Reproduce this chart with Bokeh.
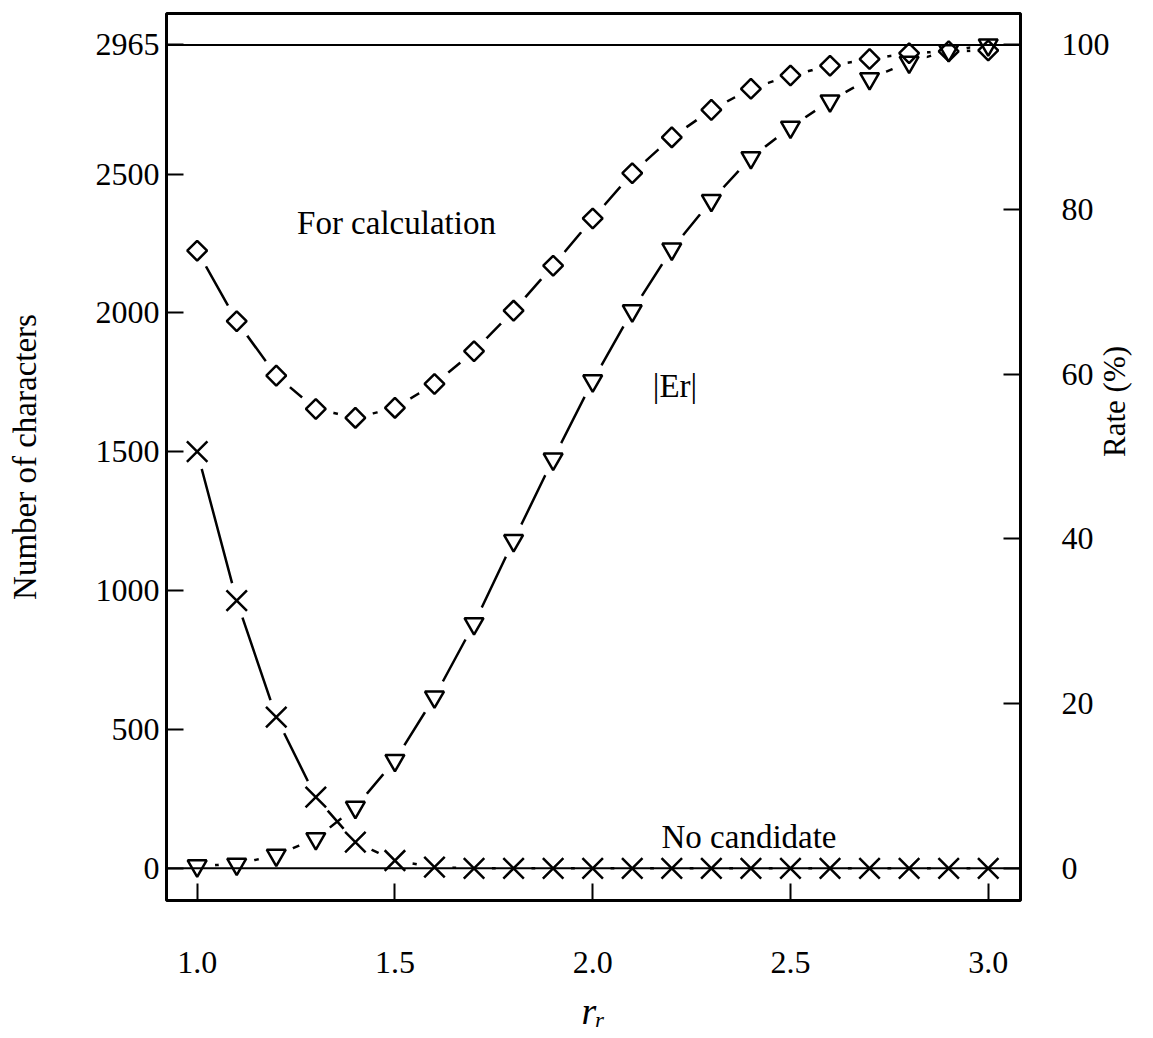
import math
from bokeh.plotting import figure
from bokeh.models import Range1d, LinearAxis, FixedTicker, Span, Label, NumeralTickFormatter
from bokeh.embed import file_html
from bokeh.resources import INLINE

# ---- data ----
r_r = [1.0, 1.1, 1.2, 1.3, 1.4, 1.5, 1.6, 1.7, 1.8, 1.9, 2.0,
       2.1, 2.2, 2.3, 2.4, 2.5, 2.6, 2.7, 2.8, 2.9, 3.0]
# number of characters "for calculation" (diamonds)
for_calculation = [2224, 1970, 1774, 1654, 1622, 1658, 1744, 1862, 2008, 2170, 2340,
                   2503, 2632, 2731, 2807, 2855, 2890, 2914, 2935, 2942, 2945]
# number of characters with no candidate (crosses)
no_candidate = [1500, 964, 544, 256, 94, 28, 4, 0, 0, 0, 0,
                0, 0, 0, 0, 0, 0, 0, 0, 0, 0]
# |Er| rate in percent (triangles)
er_rate = [0.3, 0.5, 1.6, 3.6, 7.4, 13.1, 20.8, 29.7, 39.8, 49.7, 59.2,
           67.7, 75.2, 81.1, 86.3, 90.0, 93.2, 95.9, 97.9, 99.3, 100.0]

total_chars = 2965
left_ticks = [0, 500, 1000, 1500, 2000, 2500, 2965]
right_ticks = [0, 20, 40, 60, 80, 100]
x_ticks = [1.0, 1.5, 2.0, 2.5, 3.0]

FONT = "Liberation Serif"
Y_LO, Y_HI = -116, 3078

p = figure(width=1152, height=1037,
           x_range=Range1d(0.9225, 3.0816), y_range=Range1d(Y_LO, Y_HI),
           output_backend="svg", toolbar_location=None,
           min_border_left=166, min_border_right=131,
           min_border_top=13, min_border_bottom=137)
p.extra_y_ranges = {"rate": Range1d(Y_LO * 100 / total_chars, Y_HI * 100 / total_chars)}
p.xgrid.visible = False
p.ygrid.visible = False
p.outline_line_color = "black"
p.outline_line_width = 3
p.background_fill_color = "white"
p.border_fill_color = "white"

right_axis = LinearAxis(y_range_name="rate", axis_label="Rate (%)")
p.add_layout(right_axis, "right")

for ax in [p.xaxis[0], p.yaxis[0], right_axis]:
    ax.axis_line_color = None
    ax.major_tick_in = 17
    ax.major_tick_out = 0
    ax.major_tick_line_width = 2
    ax.major_tick_line_color = "black"
    ax.minor_tick_line_color = None
    ax.major_label_text_font = FONT
    ax.major_label_text_font_size = "32px"
    ax.major_label_text_color = "black"
    ax.axis_label_text_font = FONT
    ax.axis_label_text_font_size = "33px"
    ax.axis_label_text_font_style = "normal"
    ax.axis_label_text_color = "black"

p.xaxis[0].ticker = FixedTicker(ticks=x_ticks)
p.xaxis[0].formatter = NumeralTickFormatter(format="0.0")
p.xaxis[0].major_label_standoff = 51
# x-axis title: italic r with subscript r
p.xaxis[0].axis_label = "r\u1d63"
p.xaxis[0].axis_label_text_font = FONT
p.xaxis[0].axis_label_text_font_size = "38px"
p.xaxis[0].axis_label_text_font_style = "italic"
p.xaxis[0].axis_label_standoff = 14

p.yaxis[0].ticker = FixedTicker(ticks=left_ticks)
p.yaxis[0].major_label_standoff = 7
p.yaxis[0].axis_label = "Number of characters"
p.yaxis[0].axis_label_standoff = 50

right_axis.ticker = FixedTicker(ticks=right_ticks)
right_axis.major_label_standoff = 41
right_axis.axis_label_text_font_size = "31px"
right_axis.axis_label_standoff = 2
right_axis.axis_label_orientation = math.pi / 2

# horizontal reference lines at 0 and at the total
p.add_layout(Span(location=0, dimension="width", line_color="black", line_width=2))
p.add_layout(Span(location=total_chars, dimension="width", line_color="black", line_width=2))

LW = 2.5
# connecting lines
p.line(r_r, for_calculation, line_color="black", line_width=LW)
p.line(r_r, no_candidate, line_color="black", line_width=LW)
p.line(r_r, er_rate, y_range_name="rate", line_color="black", line_width=LW)

# white masks that open a gap in the lines around each marker
p.scatter(r_r, for_calculation, marker="circle", size=36, fill_color="white", line_color=None)
p.scatter(r_r, no_candidate, marker="circle", size=36, fill_color="white", line_color=None)
p.scatter(r_r, er_rate, y_range_name="rate", marker="circle", size=36, fill_color="white", line_color=None)

# markers
p.scatter(r_r, for_calculation, marker="square", angle=math.pi / 4, size=14,
          fill_color="white", line_color="black", line_width=LW)
p.scatter(r_r, no_candidate, marker="x", size=29, line_color="black", line_width=LW)
p.scatter(r_r, er_rate, y_range_name="rate", marker="inverted_triangle", size=19,
          fill_color=None, line_color="black", line_width=LW)

def note(x, y, text):
    p.add_layout(Label(x=x, y=y, text=text, text_font=FONT, text_font_size="33px",
                       text_color="black", text_align="left", text_baseline="alphabetic"))

note(1.2525, 2323, "For calculation")
note(2.152, 1738, "|Er|")
note(2.174, 112, "No candidate")

open("out.html", "w").write(file_html(p, INLINE))
